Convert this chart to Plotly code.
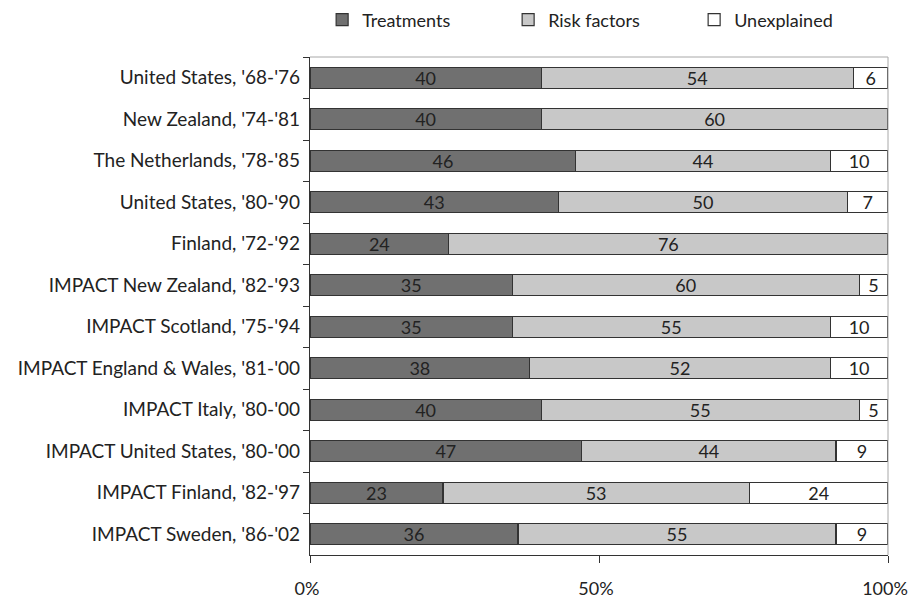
import plotly.graph_objects as go

# Decomposition of the fall in coronary heart disease deaths, per study (%)
studies = [
    "United States, '68-'76",
    "New Zealand, '74-'81",
    "The Netherlands, '78-'85",
    "United States, '80-'90",
    "Finland, '72-'92",
    "IMPACT New Zealand, '82-'93",
    "IMPACT Scotland, '75-'94",
    "IMPACT England & Wales, '81-'00",
    "IMPACT Italy, '80-'00",
    "IMPACT United States, '80-'00",
    "IMPACT Finland, '82-'97",
    "IMPACT Sweden, '86-'02",
]
treatments = [40, 40, 46, 43, 24, 35, 35, 38, 40, 47, 23, 36]
risk_factors = [54, 60, 44, 50, 76, 60, 55, 52, 55, 44, 53, 55]
unexplained = [6, 0, 10, 7, 0, 5, 10, 10, 5, 9, 24, 9]

x_ticks = [0, 50, 100]
x_tick_labels = ["0%", "50%", "100%"]

FONT = "Lato, 'Open Sans', sans-serif"
EDGE = "#333333"
TXT = "#222222"

series = [
    ("Treatments", treatments, "#707070"),
    ("Risk factors", risk_factors, "#c8c8c8"),
    ("Unexplained", unexplained, "#ffffff"),
]

fig = go.Figure()
for name, vals, color in series:
    fig.add_trace(go.Bar(
        name=name,
        y=studies,
        x=vals,
        orientation="h",
        marker=dict(color=color, line=dict(color=EDGE, width=1.2)),
        text=[str(v) if v else "" for v in vals],
        textposition="inside",
        insidetextanchor="middle",
        textangle=0,
        textfont=dict(family=FONT, size=18, color=TXT),
        constraintext="none",
        hoverinfo="skip",
    ))

fig.update_layout(
    barmode="stack",
    bargap=0.5,
    width=909,
    height=603,
    margin=dict(l=310, r=21, t=57, b=48, autoexpand=False),
    paper_bgcolor="white",
    plot_bgcolor="white",
    font=dict(family=FONT, size=19, color=TXT),
    legend=dict(
        orientation="h",
        x=0.021, xanchor="left",
        y=1 - 20 / 603, yanchor="middle",
        yref="container",
        entrywidth=141, entrywidthmode="pixels",
        font=dict(family=FONT, size=18, color=TXT),
        traceorder="normal",
        itemwidth=30,
    ),
    showlegend=True,
)

fig.update_xaxes(
    range=[0, 100],
    tickvals=x_ticks,
    ticktext=x_tick_labels,
    ticks="outside",
    ticklen=7,
    tickcolor=EDGE,
    showline=True,
    linecolor=EDGE,
    linewidth=1.2,
    showgrid=False,
    zeroline=False,
    automargin=False,
    ticklabelstandoff=10,
    ticklabelshift=-3,
    ticklabeloverflow="allow",
    tickfont=dict(family=FONT, size=18, color=TXT),
)
fig.update_yaxes(
    type="category",
    autorange="reversed",
    tickson="boundaries",
    ticks="outside",
    ticklen=6,
    tickcolor=EDGE,
    showline=True,
    linecolor=EDGE,
    linewidth=1.2,
    showgrid=False,
    automargin=False,
    ticklabelstandoff=5,
    tickfont=dict(family=FONT, size=19, color=TXT),
)

# Light frame along the top and right of the plot area
fig.add_shape(type="line", xref="paper", yref="paper", x0=0, x1=1, y0=1, y1=1,
              line=dict(color="#a8a8a8", width=1))
fig.add_shape(type="line", xref="paper", yref="paper", x0=1, x1=1, y0=0, y1=1,
              line=dict(color="#a8a8a8", width=1))

fig.write_html("out.html")
